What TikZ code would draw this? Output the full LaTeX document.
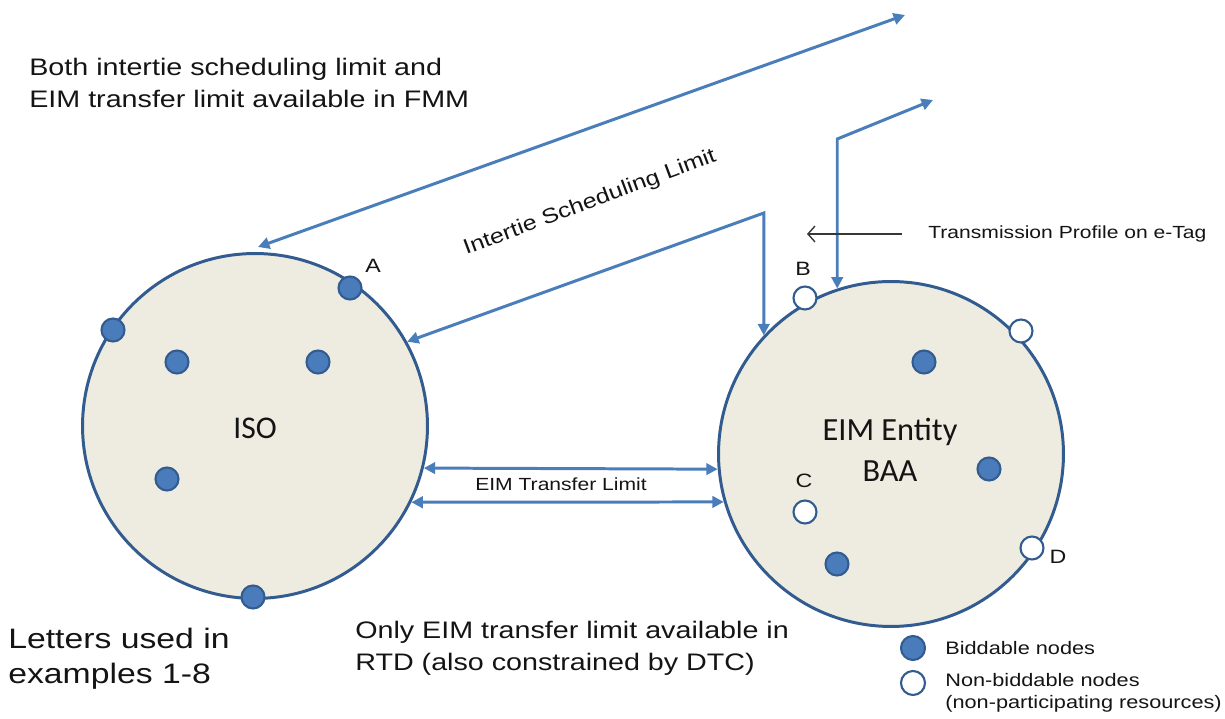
\documentclass[tikz,border=0pt]{standalone}
\usepackage{fontspec}
\setmainfont{Liberation Sans}[FakeStretch=1.2]
\newfontfamily\calibfont{Carlito}
\usetikzlibrary{arrows.meta}
\definecolor{linkblue}{RGB}{74,126,187}
\definecolor{rimblue}{RGB}{50,92,143}
\definecolor{dotblue}{RGB}{74,124,188}
\definecolor{areafill}{RGB}{238,236,225}
\definecolor{inkgrey}{RGB}{20,20,20}
\begin{document}
\begin{tikzpicture}[x=0.02cm,y=-0.02cm,text=inkgrey,
    area/.style={circle,draw=rimblue,fill=areafill,line width=1.7pt,minimum size=6.9cm},
    bid/.style={circle,draw=rimblue,fill=dotblue,line width=1.2pt,minimum size=0.46cm,inner sep=0pt},
    nobid/.style={bid,fill=white},
    link/.style={linkblue,line width=1.7pt,{Triangle[length=6.5pt,width=6.5pt]}-{Triangle[length=6.5pt,width=6.5pt]}},
    tag/.style={inkgrey!85,line width=0.8pt,-{Straight Barb[length=4pt,width=9pt]}},
    note/.style={inner sep=0pt,align=left,font=\fontsize{13.6}{18.2}\selectfont},
    small/.style={inner sep=0pt,font=\fontsize{10}{12.5}\selectfont},
    letter/.style={inner sep=0pt,font=\fontsize{11}{12}\selectfont}]
    \useasboundingbox (0,0) rectangle (1225,719);

    \node[area] (ISO) at (255,426) {};
    \node[area] (EIM) at (891,454) {};
    \node[font=\calibfont\fontsize{18}{22}\selectfont] (isoname) at (255,428) {ISO};
    \node[font=\calibfont\fontsize{18.4}{23}\selectfont,align=center] (eimname) at (890,450) {EIM Entity\\BAA};

    \coordinate (far1) at (905,15);
    \coordinate (near1) at (258,247);
    \coordinate (far2) at (933,100);
    \coordinate (tpa) at (902,234);
    \coordinate (tpb) at (807,234);

    \draw[link] (far1) -- (near1);
    \draw[link] (far2) -- (EIM.108 |- 0,139) -- (EIM.108);
    \draw[link] (ISO.29) -- (EIM.137 |- 0,213) -- (EIM.137);
    \draw[link] (ISO.-14) -- (EIM.185);
    \draw[link] (ISO.-26) -- (EIM.196);
    \draw[tag] (tpa) -- (tpb);

    \node[bid] (a) at (350,288) {};
    \node[bid] (i1) at (113,330) {};
    \node[bid] (i2) at (177,362) {};
    \node[bid] (i3) at (318,362) {};
    \node[bid] (i4) at (167,479) {};
    \node[bid] (i5) at (253,597) {};

    \node[nobid] (b) at (805,298) {};
    \node[nobid] (e1) at (1021,331) {};
    \node[bid] (e2) at (924,362) {};
    \node[bid] (e3) at (989,469) {};
    \node[nobid] (c) at (805,512) {};
    \node[bid] (e4) at (837,564) {};
    \node[nobid] (d) at (1032,548) {};

    \node[letter] (la) at (373,266) {A};
    \node[letter] (lb) at (803,269) {B};
    \node[letter] (lc) at (804,481) {C};
    \node[letter] (ld) at (1058,557) {D};

    \node[note,anchor=north west] (fmm) at (29,58) {Both intertie scheduling limit and\\EIM transfer limit available in FMM};
    \node[note,anchor=north west] (rtd) at (355,621) {Only EIM transfer limit available in\\RTD (also constrained by DTC)};
    \node[inner sep=0pt,align=left,anchor=north west,font=\fontsize{16}{20}\selectfont] (letters) at (8,628) {Letters used in\\examples 1-8};
    \node[inner sep=0pt,rotate=20.5,font=\fontsize{11.9}{14}\selectfont] (islabel) at (590,203) {Intertie Scheduling Limit};
    \node[small] (etlabel) at (561,484) {EIM Transfer Limit};
    \node[small,anchor=west] (tplabel) at (928,234) {Transmission Profile on e-Tag};

    \node[bid,minimum size=0.48cm] (keybid) at (913,648) {};
    \node[nobid,minimum size=0.48cm] (keynobid) at (913,683) {};
    \node[small,anchor=west,font=\fontsize{10.3}{12.5}\selectfont] (keybidtext) at (945,648) {Biddable nodes};
    \node[small,anchor=north west,align=left,font=\fontsize{10.3}{12.5}\selectfont] (keynobidtext) at (945,673) {Non-biddable nodes\\(non-participating resources)};
\end{tikzpicture}
\end{document}
